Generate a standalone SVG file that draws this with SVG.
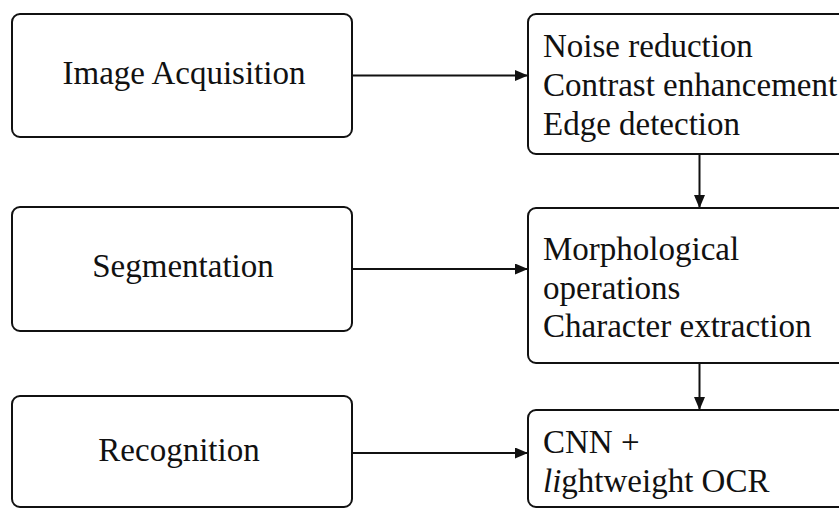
<svg xmlns="http://www.w3.org/2000/svg" width="839" height="508" viewBox="0 0 839 508">
<style>
.box{fill:#fff;stroke:#111;stroke-width:2}
.t{font-family:"Liberation Serif","Times New Roman",serif;font-size:33px;fill:#111}
.c{text-anchor:middle}
.line{stroke:#111;stroke-width:2;fill:none}
</style>
<defs>
<marker id="arr" viewBox="0 0 13 11" refX="13" refY="5.5" markerWidth="13" markerHeight="11" markerUnits="userSpaceOnUse" orient="auto">
<path d="M0,0 L13,5.5 L0,11 Z" fill="#111"/>
</marker>
</defs>
<rect width="839" height="508" fill="#fff"/>
<g id="connectors">
<line class="line" x1="352" y1="75.5" x2="528" y2="75.5" marker-end="url(#arr)"/>
<line class="line" x1="352" y1="269" x2="528" y2="269" marker-end="url(#arr)"/>
<line class="line" x1="352" y1="453" x2="528" y2="453" marker-end="url(#arr)"/>
<line class="line" x1="699.5" y1="154" x2="699.5" y2="208" marker-end="url(#arr)"/>
<line class="line" x1="699.5" y1="363" x2="699.5" y2="410" marker-end="url(#arr)"/>
</g>
<g id="image-acquisition">
<rect class="box" x="12" y="14" width="340" height="123" rx="8"/>
<text class="t c" x="184" y="84">Image Acquisition</text>
</g>
<g id="segmentation">
<rect class="box" x="12" y="207" width="340" height="124" rx="8"/>
<text class="t c" x="183" y="277">Segmentation</text>
</g>
<g id="recognition">
<rect class="box" x="12" y="396" width="340" height="111" rx="8"/>
<text class="t c" x="179" y="461">Recognition</text>
</g>
<g id="preprocessing">
<rect class="box" x="528" y="14" width="340" height="140" rx="8"/>
<text class="t" x="543" y="57">Noise reduction</text>
<text class="t" x="543" y="96">Contrast enhancement</text>
<text class="t" x="543" y="135">Edge detection</text>
</g>
<g id="segmentation-ops">
<rect class="box" x="528" y="208" width="340" height="155" rx="8"/>
<text class="t" x="543" y="260">Morphological</text>
<text class="t" x="543" y="298.5">operations</text>
<text class="t" x="543" y="337">Character extraction</text>
</g>
<g id="recognition-ops">
<rect class="box" x="528" y="410" width="340" height="97" rx="8"/>
<text class="t" x="543" y="453">CNN +</text>
<text class="t" x="543" y="492"><tspan font-style="italic">li</tspan>ghtweight OCR</text>
</g>
</svg>
